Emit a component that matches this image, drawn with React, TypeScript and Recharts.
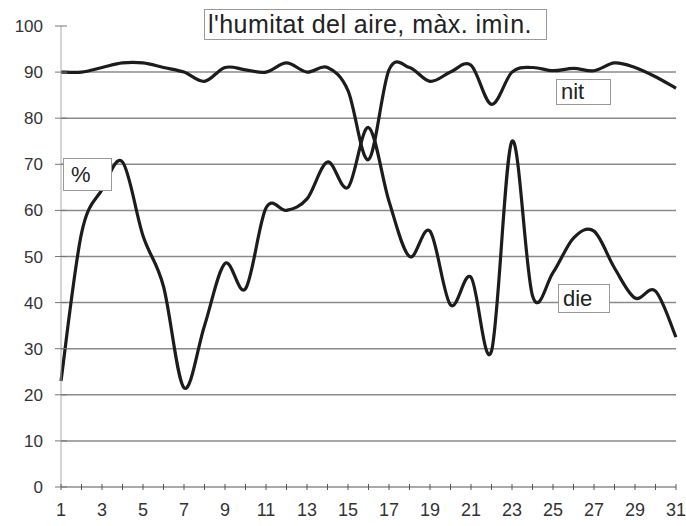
import { LineChart, Line, XAxis, YAxis, CartesianGrid } from "recharts";

const days = Array.from({ length: 31 }, (_, i) => i + 1);
const nit = [
  90, 90, 91, 92, 92, 91, 90, 88, 91, 90.5, 90, 92, 90, 91, 86, 71, 90.5, 91, 88, 90,
  91.5, 83, 90, 91, 90.3, 90.8, 90.3, 92, 91, 89, 86.5,
];
const die = [
  23, 55, 64.5, 70.5, 54.5, 43.5, 21.5, 35, 48.5, 43, 60.5, 60, 62.5, 70.5, 65, 78,
  62, 50, 55.5, 39.5, 45.5, 29.5, 75, 41.5, 46.5, 54, 55.5, 47.5, 41, 42.5, 32.5,
];
const yTicks = [0, 10, 20, 30, 40, 50, 60, 70, 80, 90, 100];

const data = days.map((d, i) => ({ day: d, nit: nit[i], die: die[i] }));

const INK = "#1c1c1c";
const GRID = "#8a8a8a";
const FONT = "'Liberation Sans', Arial, sans-serif";

// excel-like smoothing (catmull-rom through every point)
function smooth(context: any) {
  let pts: number[][] = [];
  return {
    areaStart() {},
    areaEnd() {},
    lineStart() {
      pts = [];
    },
    point(x: number, y: number) {
      pts.push([x, y]);
    },
    lineEnd() {
      if (!pts.length) return;
      context.moveTo(pts[0][0], pts[0][1]);
      const t = 1 / 6;
      for (let i = 0; i < pts.length - 1; i++) {
        const p0 = pts[i - 1] || pts[i];
        const p1 = pts[i];
        const p2 = pts[i + 1];
        const p3 = pts[i + 2] || p2;
        context.bezierCurveTo(
          p1[0] + (p2[0] - p0[0]) * t,
          p1[1] + (p2[1] - p0[1]) * t,
          p2[0] - (p3[0] - p1[0]) * t,
          p2[1] - (p3[1] - p1[1]) * t,
          p2[0],
          p2[1]
        );
      }
    },
  };
}

const XTick = (props: any) => {
  const { x, y, payload } = props;
  const axisY = y - 14;
  return (
    <g>
      <line x1={x} x2={x} y1={axisY - 3} y2={axisY + 3} stroke="#555" />
      {payload.value % 2 === 1 && (
        <text x={x} y={y} dy={15} textAnchor="middle" fill="#333" fontSize={18} fontFamily={FONT}>
          {payload.value}
        </text>
      )}
    </g>
  );
};

const YTick = (props: any) => {
  const { x, y, payload } = props;
  const axisX = x + 18;
  return (
    <g>
      <line x1={axisX - 6} x2={axisX + 6} y1={y} y2={y} stroke="#777" />
      <text x={x} y={y} dy={6} textAnchor="end" fill="#333" fontSize={17} fontFamily={FONT}>
        {payload.value}
      </text>
    </g>
  );
};

const boxStyle = {
  position: "absolute" as const,
  display: "flex",
  alignItems: "center",
  background: "#fff",
  border: "1px solid #999",
  color: "#222",
  fontFamily: FONT,
  fontSize: 22,
  lineHeight: 1,
  boxSizing: "border-box" as const,
  paddingLeft: 4,
};

export default function App() {
  return (
    <div style={{ position: "absolute", left: 0, top: 0, width: 686, height: 526, background: "#fff" }}>
      <LineChart width={686} height={526} data={data} margin={{ top: 26, right: 10, left: 0, bottom: 9 }}>
        <CartesianGrid horizontal vertical={false} stroke={GRID} strokeWidth={1.5} horizontalValues={[10, 20, 30, 40, 50, 60, 70, 80, 90]} />
        <XAxis
          dataKey="day"
          type="number"
          domain={[1, 31]}
          ticks={days}
          interval={0}
          height={30}
          tickSize={0}
          tickMargin={14}
          tickLine={false}
          axisLine={{ stroke: "#555" }}
          tick={<XTick />}
        />
        <YAxis
          domain={[0, 100]}
          ticks={yTicks}
          interval={0}
          width={61}
          tickSize={0}
          tickMargin={18}
          tickLine={false}
          axisLine={{ stroke: "#aaa" }}
          tick={<YTick />}
        />
        <Line dataKey="nit" type={smooth as any} stroke={INK} strokeWidth={3.2} dot={false} isAnimationActive={false} />
        <Line dataKey="die" type={smooth as any} stroke={INK} strokeWidth={3.2} dot={false} isAnimationActive={false} />
      </LineChart>
      <div style={{ ...boxStyle, left: 204, top: 9, width: 343, height: 31, fontSize: 25, paddingLeft: 3, letterSpacing: 0.45 }}>
        l'humitat del aire, màx. imìn.
      </div>
      <div style={{ ...boxStyle, left: 63, top: 158, width: 49, height: 33, paddingLeft: 7 }}>%</div>
      <div style={{ ...boxStyle, left: 556, top: 79, width: 55, height: 26 }}>nit</div>
      <div style={{ ...boxStyle, left: 558, top: 284, width: 52, height: 29 }}>die</div>
    </div>
  );
}
